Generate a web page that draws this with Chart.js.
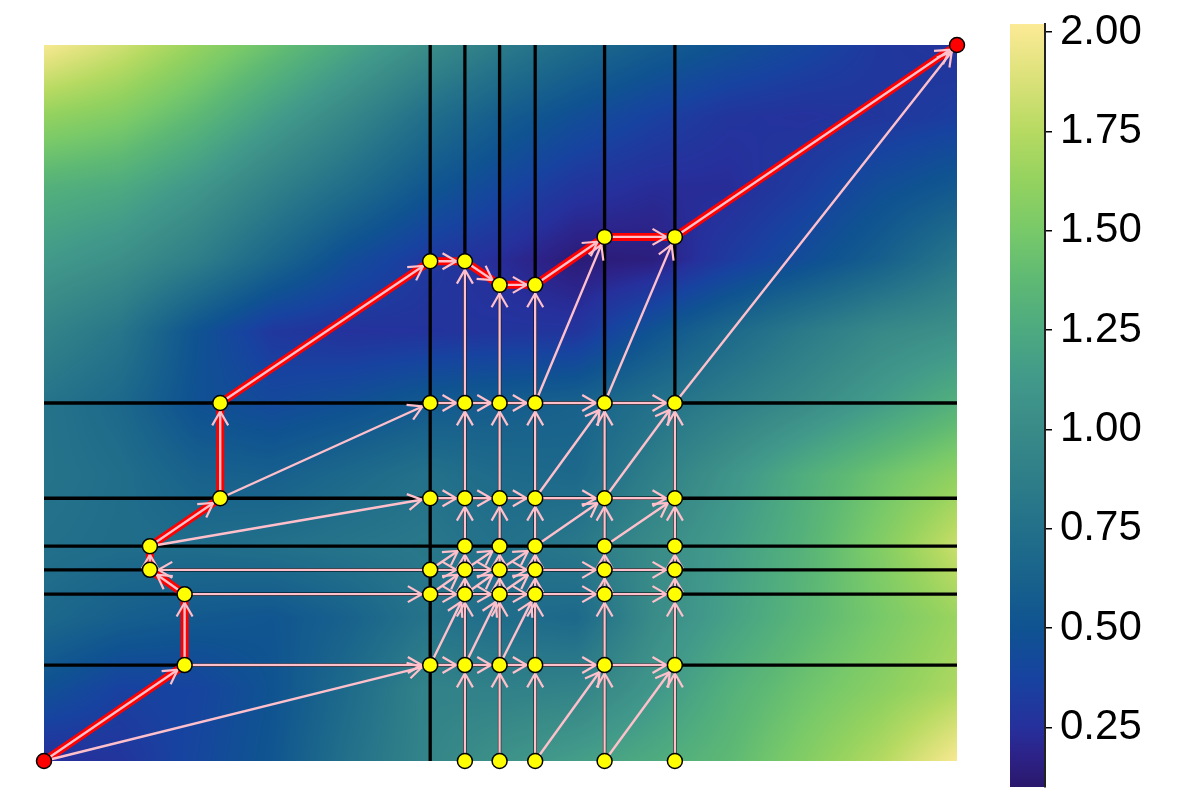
<!DOCTYPE html>
<html>
<head>
<meta charset="utf-8">
<script src="https://cdn.jsdelivr.net/npm/chart.js@4/dist/chart.umd.min.js"></script>
<style>
  body { margin: 0; background: #fff; }
  #wrap { position: relative; width: 1200px; height: 800px; }
  #plot { position: absolute; left: 0; top: 0; }
  #cbar { position: absolute; left: 1000px; top: 0; }
</style>
</head>
<body>
<div id="wrap">
  <canvas id="plot" width="1200" height="800"></canvas>
  <canvas id="cbar" width="200" height="800"></canvas>
</div>
<script>
// background field (rows top -> bottom)
var fieldX = [0, 0.083, 0.167, 0.25, 0.333, 0.417, 0.5, 0.583, 0.667, 0.75, 0.833, 0.917, 1];
var fieldY = [1, 0.9, 0.8, 0.7, 0.6, 0.5, 0.4, 0.3, 0.2, 0.1, 0];
var fieldValues = [
    [2.00, 1.84, 1.63, 1.43, 1.23, 1.03, 0.85, 0.70, 0.58, 0.49, 0.40, 0.30, 0.27],
    [1.62, 1.54, 1.37, 1.16, 0.96, 0.74, 0.58, 0.46, 0.36, 0.28, 0.26, 0.29, 0.34],
    [1.30, 1.25, 1.10, 0.90, 0.72, 0.53, 0.40, 0.28, 0.23, 0.23, 0.33, 0.46, 0.55],
    [1.13, 1.04, 0.88, 0.66, 0.45, 0.31, 0.23, 0.13, 0.15, 0.32, 0.45, 0.60, 0.80],
    [0.93, 0.80, 0.50, 0.30, 0.26, 0.27, 0.28, 0.28, 0.50, 0.68, 0.84, 0.98, 1.05],
    [0.78, 0.68, 0.48, 0.42, 0.47, 0.55, 0.58, 0.62, 0.75, 0.87, 1.00, 1.15, 1.30],
    [0.78, 0.73, 0.62, 0.60, 0.68, 0.76, 0.70, 0.68, 0.88, 1.08, 1.28, 1.45, 1.60],
    [0.75, 0.72, 0.72, 0.75, 0.79, 0.82, 0.75, 0.82, 1.00, 1.15, 1.32, 1.55, 1.82],
    [0.68, 0.60, 0.55, 0.52, 0.62, 0.78, 0.72, 0.68, 1.00, 1.18, 1.35, 1.50, 1.65],
    [0.48, 0.36, 0.38, 0.50, 0.70, 0.92, 0.90, 0.92, 1.10, 1.30, 1.45, 1.58, 1.72],
    [0.24, 0.28, 0.40, 0.52, 0.75, 0.93, 1.06, 1.16, 1.26, 1.37, 1.55, 1.74, 2.00]
];

// colour map (value -> colour), as on the colour bar
var cmapValues = [0.10, 0.18, 0.25, 0.375, 0.5, 0.625, 0.75, 0.875, 1.0, 1.125, 1.25, 1.375, 1.5, 1.625, 1.75, 1.875, 2.02];
var cmapColors = ['#2a186c', '#2c2288', '#26309c', '#1743a0', '#0f5391', '#18628c', '#22708a', '#2e7e89', '#398b88',
                  '#41998a', '#4daa80', '#5eb974', '#78c969', '#94d25f', '#b6da62', '#d9e178', '#fcea96'];
var cbarMin = 0.10;
var cbarMax = 2.02;
var cbarTicks = [0.25, 0.5, 0.75, 1.0, 1.25, 1.5, 1.75, 2.0];

// graph nodes
var colX = [0.423, 0.461, 0.499, 0.538, 0.614, 0.691];
var rowY = [0, 0.134, 0.233, 0.267, 0.300, 0.367, 0.5];
var gridSkip = ['0,0', '0,4'];
var pathX = [0, 0.154, 0.154, 0.116, 0.116, 0.193, 0.193, 0.423, 0.461, 0.499, 0.538, 0.614, 0.691, 1];
var pathY = [0, 0.134, 0.233, 0.267, 0.300, 0.367, 0.5, 0.698, 0.698, 0.665, 0.665, 0.732, 0.732, 1];

function P(i) { return [pathX[i], pathY[i]]; }
function G(c, r) { return [colX[c], rowY[r]]; }

// edges (from -> to)
var edges = [];
for (var i = 0; i < pathX.length - 1; i++) edges.push([P(i), P(i + 1)]);
edges.push([P(0), G(0, 1)], [P(1), G(0, 1)], [P(2), G(0, 2)], [G(0, 3), P(3)], [P(4), G(0, 5)], [P(5), G(0, 6)]);
[1, 2, 3, 5, 6].forEach(function (r) {
    for (var c = 0; c < 5; c++) edges.push([G(c, r), G(c + 1, r)]);
});
for (var c = 1; c < 6; c++) {
    for (var r = 0; r < 6; r++) edges.push([G(c, r), G(c, r + 1)]);
}
edges.push([G(1, 6), P(8)], [G(2, 6), P(9)], [G(3, 6), P(10)]);
edges.push([G(3, 6), P(11)], [G(4, 6), P(12)], [G(5, 6), P(13)]);
edges.push([G(3, 5), G(4, 6)], [G(4, 5), G(5, 6)], [G(3, 4), G(4, 5)], [G(4, 4), G(5, 5)]);
for (var c = 0; c < 3; c++) {
    edges.push([G(c, 1), G(c + 1, 2)], [G(c, 2), G(c + 1, 3)], [G(c, 3), G(c + 1, 4)]);
}
edges.push([G(3, 0), G(4, 1)], [G(4, 0), G(5, 1)]);

function segData(list) {
    var out = [];
    list.forEach(function (s) {
        out.push({x: s[0][0], y: s[0][1]}, {x: s[1][0], y: s[1][1]}, {x: null, y: null});
    });
    return out;
}

var blackLines = [];
colX.forEach(function (x) { blackLines.push([[x, 0], [x, 1]]); });
rowY.slice(1).forEach(function (y) { blackLines.push([[0, y], [1, y]]); });

var nodes = [];
var nodeColors = [];
for (var i = 0; i < pathX.length; i++) {
    nodes.push({x: pathX[i], y: pathY[i]});
    nodeColors.push(i == 0 || i == pathX.length - 1 ? '#ff0000' : '#ffff00');
}
for (var c = 0; c < colX.length; c++) {
    for (var r = 0; r < rowY.length; r++) {
        if (gridSkip.indexOf(c + ',' + r) >= 0) continue;
        nodes.push({x: colX[c], y: rowY[r]});
        nodeColors.push('#ffff00');
    }
}

function hexRgb(h) {
    return [parseInt(h.slice(1, 3), 16), parseInt(h.slice(3, 5), 16), parseInt(h.slice(5, 7), 16)];
}
var cmapRgb = cmapColors.map(hexRgb);

function colorFor(v) {
    if (v <= cmapValues[0]) return cmapRgb[0];
    var n = cmapValues.length;
    if (v >= cmapValues[n - 1]) return cmapRgb[n - 1];
    var k = 1;
    while (cmapValues[k] < v) k++;
    var t = (v - cmapValues[k - 1]) / (cmapValues[k] - cmapValues[k - 1]);
    var a = cmapRgb[k - 1], b = cmapRgb[k];
    return [a[0] + (b[0] - a[0]) * t, a[1] + (b[1] - a[1]) * t, a[2] + (b[2] - a[2]) * t];
}

function locate(arr, v) {
    // index + fraction inside an ascending or descending array
    var n = arr.length;
    var asc = arr[n - 1] > arr[0];
    for (var k = 0; k < n - 1; k++) {
        var a = arr[k], b = arr[k + 1];
        if ((asc && v <= b) || (!asc && v >= b)) {
            var t = (v - a) / (b - a);
            return [k, Math.max(0, Math.min(1, t))];
        }
    }
    return [n - 2, 1];
}

var heatmapPlugin = {
    id: 'heatmap',
    beforeDatasetsDraw: function (chart) {
        var ctx = chart.ctx, a = chart.chartArea;
        var xs = chart.scales.x, ys = chart.scales.y;
        var w = Math.round(a.right - a.left), h = Math.round(a.bottom - a.top);
        var off = document.createElement('canvas');
        off.width = w; off.height = h;
        var octx = off.getContext('2d');
        var img = octx.createImageData(w, h);
        var colLoc = [];
        for (var i = 0; i < w; i++) colLoc.push(locate(fieldX, xs.getValueForPixel(a.left + i + 0.5)));
        for (var j = 0; j < h; j++) {
            var ry = locate(fieldY, ys.getValueForPixel(a.top + j + 0.5));
            var r0 = fieldValues[ry[0]], r1 = fieldValues[ry[0] + 1];
            for (var i = 0; i < w; i++) {
                var k = colLoc[i][0], t = colLoc[i][1];
                var top = r0[k] + (r0[k + 1] - r0[k]) * t;
                var bot = r1[k] + (r1[k + 1] - r1[k]) * t;
                var col = colorFor(top + (bot - top) * ry[1]);
                var p = (j * w + i) * 4;
                img.data[p] = col[0]; img.data[p + 1] = col[1]; img.data[p + 2] = col[2]; img.data[p + 3] = 255;
            }
        }
        octx.putImageData(img, 0, 0);
        ctx.drawImage(off, a.left, a.top);
    }
};

var arrowPlugin = {
    id: 'arrows',
    afterDatasetDraw: function (chart, args) {
        if (chart.data.datasets[args.index].label !== 'edges') return;
        var ctx = chart.ctx, xs = chart.scales.x, ys = chart.scales.y;
        var ang = 30 * Math.PI / 180, len = 16, nodeR = 8.5;
        ctx.save();
        ctx.strokeStyle = '#ffc0cb';
        ctx.lineWidth = 2.2;
        edges.forEach(function (e) {
            var ax = xs.getPixelForValue(e[0][0]), ay = ys.getPixelForValue(e[0][1]);
            var bx = xs.getPixelForValue(e[1][0]), by = ys.getPixelForValue(e[1][1]);
            var dx = bx - ax, dy = by - ay, d = Math.hypot(dx, dy);
            var ux = dx / d, uy = dy / d;
            var tx = bx - ux * nodeR, ty = by - uy * nodeR;
            var c = Math.cos(ang), s = Math.sin(ang);
            ctx.beginPath();
            ctx.moveTo(tx + (-ux * c + uy * s) * len, ty + (-ux * s - uy * c) * len);
            ctx.lineTo(tx, ty);
            ctx.lineTo(tx + (-ux * c - uy * s) * len, ty + (ux * s - uy * c) * len);
            ctx.stroke();
        });
        ctx.restore();
    }
};

new Chart(document.getElementById('plot'), {
    type: 'scatter',
    data: {
        datasets: [{
            label: 'nodes',
            data: nodes,
            pointRadius: 7.5,
            pointHoverRadius: 7.5,
            pointBackgroundColor: nodeColors,
            pointBorderColor: '#000',
            pointBorderWidth: 1.5,
            clip: false,
            order: 0
        }, {
            label: 'edges',
            data: segData(edges),
            showLine: true,
            borderColor: '#ffc0cb',
            borderWidth: 2.4,
            pointRadius: 0,
            spanGaps: false,
            clip: false,
            order: 1
        }, {
            label: 'path',
            data: pathX.map(function (x, i) { return {x: x, y: pathY[i]}; }),
            showLine: true,
            borderColor: '#ff0000',
            borderWidth: 8,
            borderJoinStyle: 'round',
            pointRadius: 0,
            clip: false,
            order: 2
        }, {
            label: 'grid',
            data: segData(blackLines),
            showLine: true,
            borderColor: '#000',
            borderWidth: 3.3,
            pointRadius: 0,
            spanGaps: false,
            clip: false,
            order: 3
        }]
    },
    options: {
        responsive: false,
        animation: false,
        layout: { padding: { left: 44, top: 45, right: 243, bottom: 39 } },
        plugins: { legend: { display: false }, tooltip: { enabled: false } },
        scales: {
            x: { type: 'linear', min: 0, max: 1, display: false },
            y: { type: 'linear', min: 0, max: 1, display: false }
        }
    },
    plugins: [heatmapPlugin, arrowPlugin]
});

var cbarPlugin = {
    id: 'cbarFill',
    beforeDraw: function (chart) {
        var ctx = chart.ctx, a = chart.chartArea, ys = chart.scales.y;
        var y0 = ys.getPixelForValue(cbarMax), y1 = ys.getPixelForValue(cbarMin);
        var g = ctx.createLinearGradient(0, y1, 0, y0);
        cmapValues.forEach(function (v, i) {
            g.addColorStop((v - cbarMin) / (cbarMax - cbarMin), cmapColors[i]);
        });
        ctx.save();
        ctx.fillStyle = g;
        ctx.fillRect(a.left, y0, a.right - a.left, y1 - y0);
        ctx.restore();
    }
};

new Chart(document.getElementById('cbar'), {
    type: 'scatter',
    data: { datasets: [] },
    options: {
        responsive: false,
        animation: false,
        layout: { padding: { left: 10, top: 24, right: 0, bottom: 13 } },
        plugins: { legend: { display: false }, tooltip: { enabled: false } },
        scales: {
            x: { display: false },
            y: {
                type: 'linear',
                position: 'right',
                min: cbarMin,
                max: cbarMax,
                afterFit: function (s) {
                    s.width = 155;
                    s.paddingTop = 0;
                    s.paddingBottom = 0;
                },
                afterBuildTicks: function (s) {
                    s.ticks = cbarTicks.map(function (v) { return {value: v}; });
                },
                grid: { drawOnChartArea: false, drawTicks: true, tickLength: 7, color: '#000', lineWidth: 1.5 },
                border: { display: true, color: '#222', width: 2 },
                ticks: {
                    padding: 8,
                    color: '#000',
                    font: { family: 'Liberation Sans', size: 42 },
                    callback: function (v) { return Number(v).toFixed(2); }
                }
            }
        }
    },
    plugins: [cbarPlugin]
});
</script>
</body>
</html>
